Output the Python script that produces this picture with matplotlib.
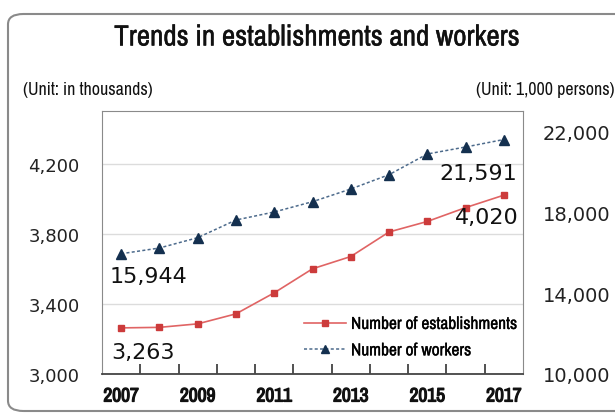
import matplotlib.pyplot as plt
import matplotlib.patheffects as pe
from matplotlib.patches import FancyBboxPatch

# data
years = [2007, 2008, 2009, 2010, 2011, 2012, 2013, 2014, 2015, 2016, 2017]
establishments = [3263, 3266, 3286, 3343, 3463, 3600, 3670, 3810, 3870, 3949, 4020]  # thousands
workers = [15944, 16228, 16738, 17612, 18008, 18517, 19145, 19852, 20875, 21221, 21591]  # 1,000 persons
left_ticks = [3000, 3400, 3800, 4200]
right_ticks = [10000, 14000, 18000, 22000]

narrow = ['Archivo Narrow', 'Roboto Condensed', 'Liberation Sans', 'DejaVu Sans']
red_line = '#e06464'
red_mark = '#cc3b3b'
blue_line = '#4d6b8c'
blue_mark = '#14304f'
heavy = [pe.withStroke(linewidth=0.9, foreground='#111111')]
light = [pe.withStroke(linewidth=0.25, foreground='#111111')]

fig = plt.figure(figsize=(6.15, 4.14), dpi=100)
fig.patch.set_facecolor('white')

# rounded frame, cut off at the right
frame = FancyBboxPatch((8 / 615, 1 - 412 / 414), 700 / 615, 397 / 414,
                       boxstyle='round,pad=0,rounding_size=0.025',
                       transform=fig.transFigure, fill=False,
                       edgecolor='#8a8a8a', linewidth=1.5)
fig.patches.append(frame)

ax = fig.add_axes([102 / 615, 39 / 414, 421 / 615, 263 / 414])
x = list(range(len(years)))

ax.plot(x, establishments, color=red_line, linewidth=1.2, marker='s',
        markersize=4.5, markerfacecolor=red_mark, markeredgecolor=red_mark,
        label='Number of establishments', zorder=3)
ax.set_ylim(3000, 4500)
ax.set_yticks(left_ticks)
ax.set_yticklabels([f'{v:,}' for v in left_ticks])
ax.set_xlim(-0.5, len(years) - 0.5)
ax.set_xticks(x[::2])
xl = ax.set_xticklabels([str(y) for y in years[::2]], family=narrow,
                        fontweight='bold', fontsize=14)
for t in xl:
    t.set_path_effects(heavy)
ax.set_xticks([i + 0.5 for i in x[:-1]], minor=True)
ax.tick_params(axis='x', which='major', length=0, pad=9, colors='#111111')
ax.tick_params(axis='x', which='minor', direction='in', length=7,
               width=1.2, color='#333333')
ax.tick_params(axis='y', length=0, pad=16, labelsize=13, colors='#222222')
ax.grid(True, axis='y', color='#dcdcdc', linewidth=1)
ax.set_axisbelow(True)
for side in ['top', 'left', 'right']:
    ax.spines[side].set_color('#8a8a8a')
ax.spines['bottom'].set_color('#444444')
ax.spines['bottom'].set_linewidth(1.3)

ax2 = ax.twinx()
ax2.plot(x, workers, color=blue_line, linewidth=1.1, linestyle=(0, (2, 1.5)),
         marker='^', markersize=6.5, markerfacecolor=blue_mark,
         markeredgecolor=blue_mark, label='Number of workers', zorder=3)
ax2.set_ylim(10000, 23000)
ax2.set_yticks(right_ticks)
ax2.set_yticklabels([f'{v:,}' for v in right_ticks])
ax2.tick_params(axis='y', length=0, pad=14, labelsize=14, colors='#222222')
for side in ['top', 'left', 'right', 'bottom']:
    ax2.spines[side].set_visible(False)

# value labels at the ends
ax.text(x[0] - 0.25, establishments[0] - 80, f'{establishments[0]:,}',
        fontsize=16, ha='left', va='top', color='#111111')
ax.text(x[-1] + 0.4, establishments[-1] - 70, f'{establishments[-1]:,}',
        fontsize=16, ha='right', va='top', color='#111111')
ax2.text(x[0] - 0.3, workers[0] - 600, f'{workers[0]:,}',
         fontsize=16, ha='left', va='top', color='#111111')
ax2.text(x[-1] + 0.35, workers[-1] - 1150, f'{workers[-1]:,}',
         fontsize=16, ha='right', va='top', color='#111111')

h1, l1 = ax.get_legend_handles_labels()
h2, l2 = ax2.get_legend_handles_labels()
leg = ax2.legend(h1 + h2, l1 + l2, loc='lower right',
                 bbox_to_anchor=(1.024, 0.0), frameon=False,
                 prop={'family': narrow, 'size': 12.5}, markerscale=0.85,
                 handlelength=2.4, handletextpad=0.3, labelspacing=0.65)
for t in leg.get_texts():
    t.set_path_effects(light)

title = fig.text(317 / 615, 1 - 38 / 414, 'Trends in establishments and workers',
                 family=narrow, fontsize=21, ha='center', va='center',
                 color='#111111')
title.set_path_effects([pe.withStroke(linewidth=0.3, foreground='#111111')])
fig.text(23 / 615, 1 - 90 / 414, '(Unit: in thousands)', family=narrow,
         fontsize=12.9, ha='left', va='center', color='#111111')
fig.text(614 / 615, 1 - 90 / 414, '(Unit: 1,000 persons)', family=narrow,
         fontsize=12.9, ha='right', va='center', color='#111111')

fig.savefig('out.png', dpi=100)
